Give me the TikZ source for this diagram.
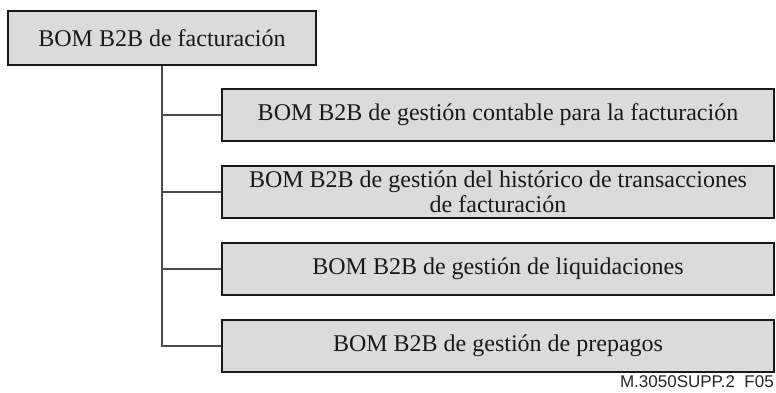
\documentclass[tikz,border=0pt]{standalone}
\usepackage{fontspec}
\setmainfont{Liberation Serif}
\newfontfamily\labelsans{Liberation Sans}
\begin{document}
\begin{tikzpicture}[x=1pt,y=-1pt,
  bombox/.style={draw=black!90, line width=2.4pt, fill=black!14, rectangle, inner sep=0pt,
    font=\fontsize{24}{24.5}\selectfont, align=center, text=black!90},
  conn/.style={draw=black!70, line width=1.4pt}]
\useasboundingbox (0,0) rectangle (776,392);
\node[bombox, minimum width=308pt, minimum height=54pt] (top) at (162,38) {BOM B2B de facturación};
\node[bombox, minimum width=552pt, minimum height=52pt] (b1) at (498,115) {BOM B2B de gestión contable para la facturación};
\node[bombox, minimum width=552pt, minimum height=52pt] (b2) at (498,192) {BOM B2B de gestión del histórico de transacciones\\de facturación};
\node[bombox, minimum width=552pt, minimum height=52pt] (b3) at (498,269) {BOM B2B de gestión de liquidaciones};
\node[bombox, minimum width=552pt, minimum height=52pt] (b4) at (498,346) {BOM B2B de gestión de prepagos};
\draw[conn] (top.south) |- (b4.west);
\draw[conn] (b1.west) -- (b1.west -| top.south);
\draw[conn] (b2.west) -- (b2.west -| top.south);
\draw[conn] (b3.west) -- (b3.west -| top.south);
\node[font=\labelsans\fontsize{17}{17}\selectfont, anchor=base east, inner sep=0pt, text=black!85] (lbl) at (774,387) {M.3050SUPP.2\ \ F05};
\end{tikzpicture}
\end{document}
